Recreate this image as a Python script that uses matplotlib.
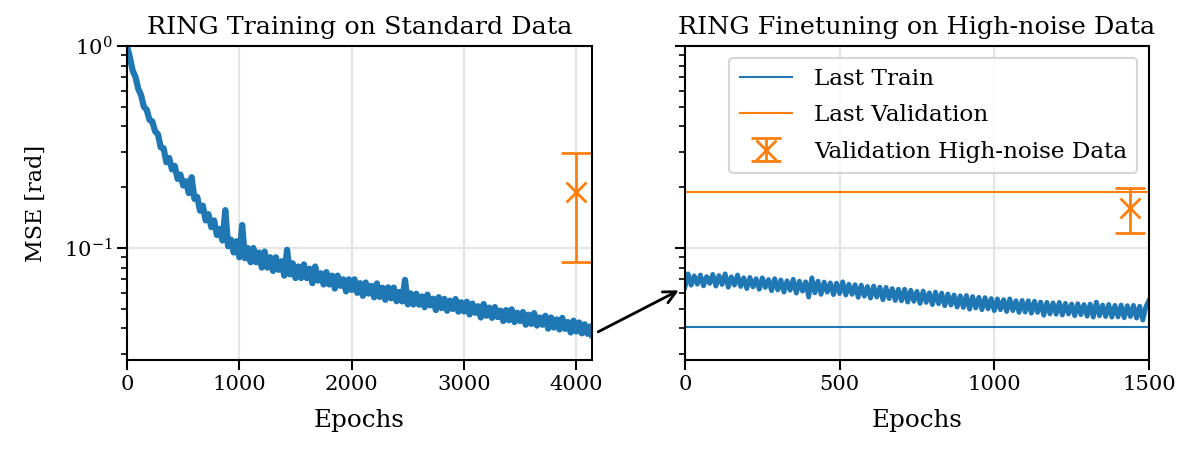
import matplotlib
matplotlib.use("Agg")
import matplotlib.pyplot as plt
from matplotlib.patches import ConnectionPatch

plt.rcParams["font.family"] = ["DejaVu Serif"]
plt.rcParams["mathtext.fontset"] = "dejavuserif"
plt.rcParams["font.size"] = 16

# training loss on standard data, sampled every 25 epochs
epochs_std = list(range(0, 4126, 25)) + [4140]
mse_std = [
    1.0, 0.879, 0.755, 0.704, 0.614, 0.571, 0.500, 0.484, 0.431, 0.423,
    0.378, 0.366, 0.315, 0.312, 0.266, 0.279, 0.245, 0.255, 0.220, 0.231,
    0.204, 0.214, 0.187, 0.224, 0.175, 0.179, 0.153, 0.162, 0.137, 0.147,
    0.127, 0.137, 0.116, 0.124, 0.109, 0.154, 0.102, 0.110, 0.095, 0.108,
    0.090, 0.130, 0.089, 0.100, 0.085, 0.100, 0.085, 0.095, 0.080, 0.096,
    0.080, 0.090, 0.077, 0.090, 0.078, 0.086, 0.073, 0.098, 0.074, 0.084,
    0.071, 0.081, 0.071, 0.083, 0.071, 0.079, 0.067, 0.081, 0.069, 0.075,
    0.066, 0.076, 0.066, 0.073, 0.063, 0.073, 0.065, 0.070, 0.061, 0.070,
    0.062, 0.070, 0.060, 0.067, 0.058, 0.0675, 0.0595, 0.065, 0.057, 0.0668,
    0.0573, 0.0636, 0.0554, 0.0639, 0.0564, 0.0637, 0.0545, 0.0606, 0.0544, 0.0695,
    0.0526, 0.0596, 0.0525, 0.0594, 0.0524, 0.0576, 0.0509, 0.0588, 0.0520, 0.0561,
    0.0493, 0.0571, 0.0504, 0.0560, 0.0489, 0.0549, 0.0499, 0.0559, 0.0484, 0.0539,
    0.0485, 0.0542, 0.0469, 0.0531, 0.0478, 0.0515, 0.0453, 0.0528, 0.0462, 0.0507,
    0.0451, 0.0510, 0.0455, 0.0490, 0.0435, 0.0493, 0.0439, 0.0497, 0.0430, 0.0478,
    0.0435, 0.0482, 0.0417, 0.0468, 0.0421, 0.0476, 0.0413, 0.0453, 0.0417, 0.0462,
    0.0399, 0.0453, 0.0404, 0.0443, 0.0395, 0.0451, 0.0398, 0.0430, 0.0382, 0.0437,
    0.0386, 0.0428, 0.0378, 0.0419, 0.0376, 0.0409, 0.0371,
]

# finetuning loss on high-noise data, sampled every 10 epochs
epochs_ft = list(range(0, 1501, 10))
mse_ft = [
    0.0640, 0.0745, 0.0655, 0.0728, 0.0662, 0.0735, 0.0650, 0.0722, 0.0668, 0.0740,
    0.0648, 0.0730, 0.0660, 0.0745, 0.0640, 0.0720, 0.0655, 0.0735, 0.0645, 0.0712,
    0.0630, 0.0715, 0.0642, 0.0705, 0.0625, 0.0712, 0.0638, 0.0698, 0.0615, 0.0705,
    0.0620, 0.0695, 0.0605, 0.0688, 0.0618, 0.0700, 0.0598, 0.0685, 0.0612, 0.0680,
    0.0572, 0.0712, 0.0600, 0.0685, 0.0590, 0.0678, 0.0605, 0.0672, 0.0588, 0.0670,
    0.0595, 0.0680, 0.0585, 0.0662, 0.0590, 0.0658, 0.0570, 0.0655, 0.0578, 0.0645,
    0.0565, 0.0648, 0.0572, 0.0640, 0.0555, 0.0638, 0.0562, 0.0630, 0.0550, 0.0625,
    0.0548, 0.0625, 0.0540, 0.0618, 0.0545, 0.0610, 0.0532, 0.0612, 0.0538, 0.0600,
    0.0525, 0.0605, 0.0530, 0.0598, 0.0518, 0.0592, 0.0522, 0.0585, 0.0510, 0.0580,
    0.0508, 0.0582, 0.0498, 0.0575, 0.0505, 0.0570, 0.0495, 0.0568, 0.0500, 0.0562,
    0.0490, 0.0560, 0.0495, 0.0555, 0.0485, 0.0560, 0.0490, 0.0548, 0.0480, 0.0550,
    0.0482, 0.0548, 0.0476, 0.0545, 0.0480, 0.0540, 0.0465, 0.0538, 0.0472, 0.0535,
    0.0470, 0.0538, 0.0466, 0.0532, 0.0472, 0.0528, 0.0462, 0.0530, 0.0468, 0.0525,
    0.0460, 0.0528, 0.0455, 0.0540, 0.0462, 0.0522, 0.0458, 0.0525, 0.0455, 0.0520,
    0.0456, 0.0522, 0.0452, 0.0518, 0.0458, 0.0520, 0.0450, 0.0515, 0.0440, 0.0512,
    0.0550,
]

# validation on high-noise data: mean and spread
val_std_epoch, val_std_mean, val_std_lo, val_std_hi = 4000, 0.19, 0.085, 0.295
val_ft_epoch, val_ft_mean, val_ft_lo, val_ft_hi = 1440, 0.158, 0.119, 0.198

last_train = 0.0408
last_val = 0.190

blue = "#1f77b4"
orange = "#ff7f0e"

fig = plt.figure(figsize=(11.84, 4.49), dpi=100)
ax1 = fig.add_axes([0.1073, 0.1982, 0.3927, 0.6993])
ax2 = fig.add_axes([0.5785, 0.1982, 0.3919, 0.6993], sharey=ax1)

for ax in (ax1, ax2):
    ax.set_yscale("log")
    ax.grid(True, which="major", color="#e5e5e5", lw=1.5)
    ax.set_axisbelow(True)
    ax.tick_params(which="major", length=7, width=1.5, direction="out",
                   labelsize=15.2)
    ax.tick_params(which="minor", length=4, width=1.2)
    for s in ax.spines.values():
        s.set_linewidth(1.5)
    ax.set_xlabel("Epochs", fontsize=17.7, labelpad=11)

ax1.plot(epochs_std, mse_std, color=blue, lw=4.5)
ax1.errorbar([val_std_epoch], [val_std_mean],
             yerr=[[val_std_mean - val_std_lo], [val_std_hi - val_std_mean]],
             fmt="x", color=orange, ms=14, mew=2, elinewidth=2,
             capsize=11, capthick=2)
ax1.set_xlim(0, 4140)
ax1.set_ylim(0.0279, 1.0)
ax1.set_xticks([0, 1000, 2000, 3000, 4000])
ax1.set_ylabel("MSE [rad]", fontsize=16, labelpad=12)
ax1.set_title("RING Training on Standard Data", fontsize=18.3, pad=9)

ax2.plot(epochs_ft, mse_ft, color=blue, lw=3.5)
ax2.axhline(last_train, color=blue, lw=1.5, label="Last Train")
ax2.axhline(last_val, color=orange, lw=1.5, label="Last Validation")
ax2.errorbar([val_ft_epoch], [val_ft_mean],
             yerr=[[val_ft_mean - val_ft_lo], [val_ft_hi - val_ft_mean]],
             fmt="x", color=orange, ms=14, mew=2, elinewidth=2,
             capsize=11, capthick=2, label="Validation High-noise Data")
ax2.set_xlim(0, 1500)
ax2.set_xticks([0, 500, 1000, 1500])
ax2.tick_params(axis="y", which="both", labelleft=False)
ax2.set_title("RING Finetuning on High-noise Data", fontsize=18.3, pad=9)
leg = ax2.legend(loc="upper right", fontsize=16.7, frameon=True, fancybox=True,
                 edgecolor="#cccccc", borderpad=0.45, labelspacing=0.62,
                 handlelength=2.25, handletextpad=0.95)
leg.get_frame().set_linewidth(1.5)

# arrow linking the end of training to the start of finetuning
arrow = ConnectionPatch(xyA=(epochs_std[-1], mse_std[-1]), coordsA=ax1.transData,
                        xyB=(epochs_ft[0], mse_ft[0]), coordsB=ax2.transData,
                        arrowstyle="->", lw=2, color="black",
                        mutation_scale=22, shrinkA=5, shrinkB=5)
fig.add_artist(arrow)

fig.savefig("out.png", dpi=100)
